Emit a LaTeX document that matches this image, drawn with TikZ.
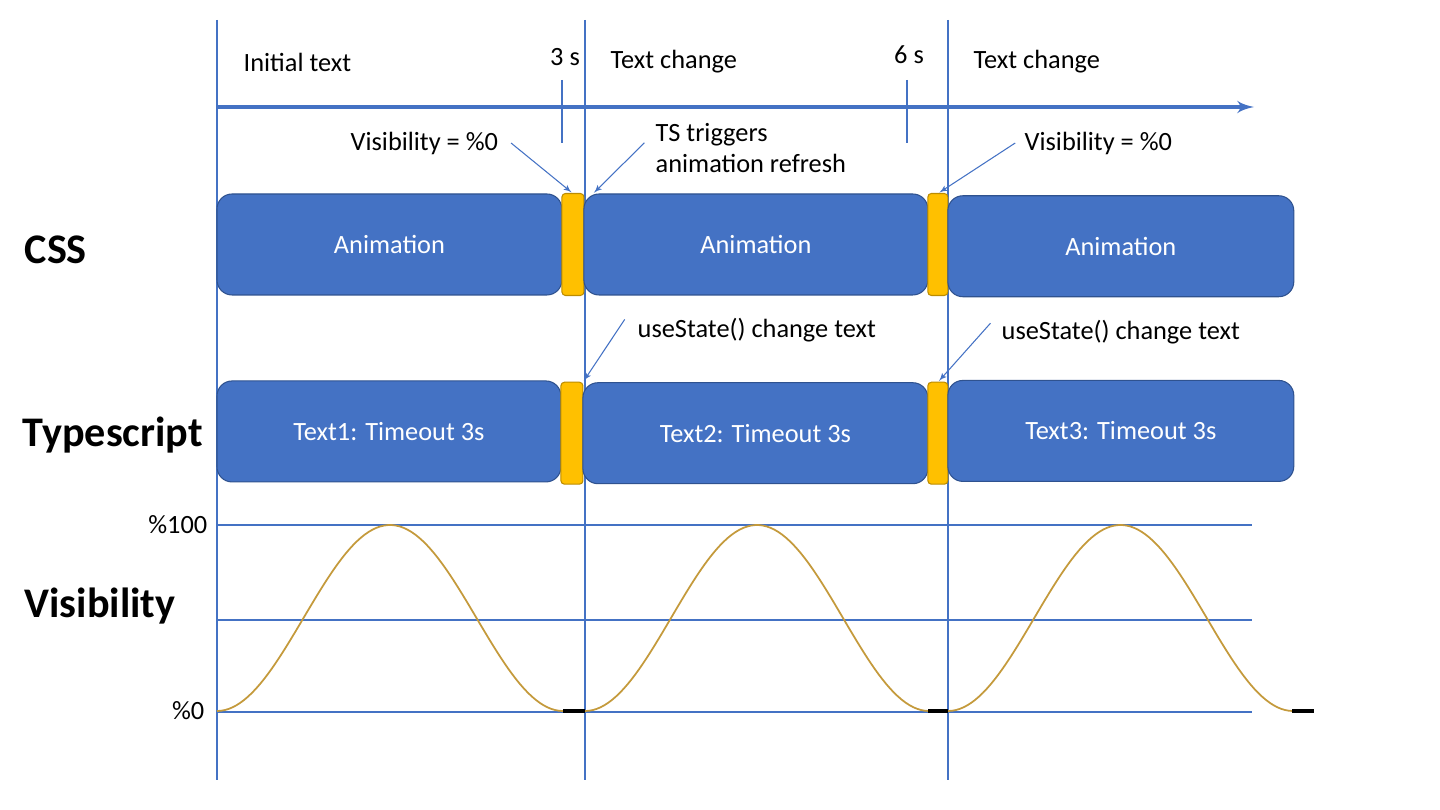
\documentclass[tikz,border=0pt]{standalone}
\usepackage{fontspec}
\setmainfont{Carlito}
\usepackage{tikz}
\usepackage{xcolor}
\usetikzlibrary{positioning,arrows}
\definecolor{tlblue}{HTML}{4472C4}
\definecolor{boxedge}{HTML}{2F528F}
\definecolor{barfill}{HTML}{FFC000}
\definecolor{baredge}{HTML}{BC8C00}
\definecolor{wavecol}{HTML}{C49A3C}
\newcommand*\lbl{\fontsize{15}{18}\selectfont}
\newcommand*\rowlbl{\fontsize{24}{28}\selectfont\bfseries}

\begin{document}
\begin{tikzpicture}[
      x=0.02cm, y=-0.02cm,
      >=latex',
      thick,
      guide/.style={draw=tlblue, line width=0.6pt},
      pointer/.style={->, draw=tlblue, line width=0.6pt, shorten >=1pt},
      txt/.style={inner sep=0pt, font=\lbl, align=left},
      rowname/.style={inner sep=0pt, anchor=west, font=\rowlbl},
      box/.style={draw=boxedge, line width=0.6pt, fill=tlblue, rounded corners=0.3cm, outer sep=0pt,
                  text=white, font=\fontsize{15}{18}\selectfont, minimum height=2.02cm, inner sep=0pt},
      bar/.style={draw=baredge, line width=0.6pt, fill=barfill, rounded corners=2pt, outer sep=0pt,
                  minimum height=2.04cm, minimum width=0.44cm, inner sep=0pt},
      wave/.style={draw=wavecol, line width=1pt},
      rest/.style={line width=2.3pt, black},
    ]
      \useasboundingbox (0,0) rectangle (1440,810);

      % time guides
      \foreach \x in {217,585,948}
        \draw[guide] (\x,20) -- (\x,780);
      \foreach \y in {525,620,712}
        \draw[guide] (217,\y) -- (1252,\y);

      % time axis
      \coordinate (t0) at (217,107);
      \coordinate (tend) at (1254,107);
      \draw[->, tlblue, line width=2.3pt] (t0) -- (tend);
      \draw[tlblue, line width=1.6pt] (562,80) -- (562,143);
      \draw[tlblue, line width=1.6pt] (907,80) -- (907,143);

      \node[txt, anchor=west] (init) at (243,62) {Initial text};
      \node[txt] (three) at (565,57) {3 s};
      \node[txt, anchor=west] (chg1) at (610,62) {Text change};
      \node[txt] (six) at (909,55) {6 s};
      \node[txt, anchor=west] (chg2) at (973,62) {Text change};

      % rows
      \node[rowname] (css) at (24,250) {CSS};
      \node[rowname] (tsrow) at (22,435) {Typescript};
      \node[rowname] (visrow) at (24,606) {Visibility};

      \node[box, minimum width=6.9cm, anchor=north west] (css1) at (217,194) {Animation};
      \node[bar, right=0pt of css1] (bar1) {};
      \node[box, minimum width=6.88cm, right=0pt of bar1] (css2) {Animation};
      \node[bar, minimum width=0.4cm, right=0pt of css2] (bar2) {};
      \node[box, minimum width=6.92cm, right=0pt of bar2, yshift=-1pt] (css3) {Animation};

      \node[box, minimum width=6.88cm, below=1.72cm of css1.south west, anchor=north west] (ts1) {Text1: Timeout 3s};
      \node[bar, right=0pt of ts1, yshift=-1pt] (tbar1) {};
      \node[box, minimum width=6.9cm, right=0pt of tbar1] (ts2) {Text2: Timeout 3s};
      \node[bar, minimum width=0.4cm, right=0pt of ts2] (tbar2) {};
      \node[box, minimum width=6.92cm, right=0pt of tbar2, yshift=1.3pt] (ts3) {Text3: Timeout 3s};

      % notes
      \node[txt, anchor=west] (vis1) at (350,143) {Visibility = \%0};
      \node[txt, anchor=west] (trig) at (655,148) {TS triggers\\animation refresh};
      \node[txt, anchor=west] (vis2) at (1024,143) {Visibility = \%0};
      \node[txt, anchor=west] (use1) at (637,330) {useState() change text};
      \node[txt, anchor=west] (use2) at (1001,332) {useState() change text};

      \path
        ([xshift=7pt]vis1.east) edge[pointer] (bar1.north)
        ([xshift=-6pt,yshift=3pt]trig.west) edge[pointer] ([xshift=5pt]css2.north west)
        ([xshift=-5pt]vis2.west) edge[pointer] (bar2.north)
        ([xshift=-7pt,yshift=6pt]use1.west) edge[pointer] (tbar1.north east)
        ([xshift=-6pt,yshift=5pt]use2.west) edge[pointer] (tbar2.north);

      % visibility levels
      \node[txt, anchor=east] (full) at (208,525) {\%100};
      \node[txt, anchor=east] (zero) at (205,711) {\%0};

      \foreach \s/\p in {217/346, 585/344, 948/345}
        \draw[wave] plot[domain=0:1, samples=90] ({\s+\p*\x}, {711-93*(1-cos(360*\x))});
      \foreach \a/\b in {563/585, 928/948, 1292/1314}
        \draw[rest] (\a,711) -- (\b,711);
\end{tikzpicture}
\end{document}
